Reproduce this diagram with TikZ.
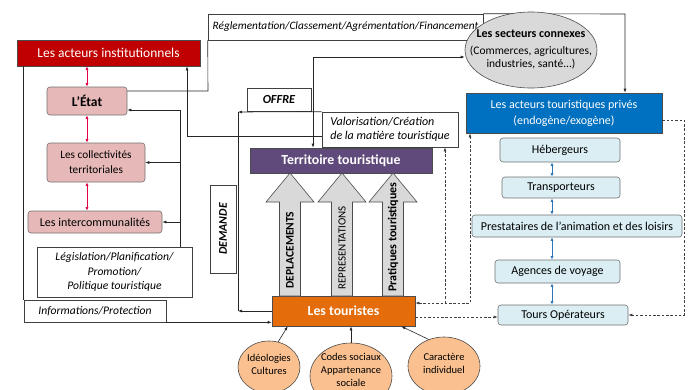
\documentclass[tikz,border=0pt]{standalone}
\usepackage{fontspec}
\setmainfont{Carlito}
\usetikzlibrary{arrows.meta, positioning, shapes.geometric}
\definecolor{instred}{RGB}{192,0,0}
\definecolor{statepink}{RGB}{230,184,183}
\definecolor{linkred}{RGB}{225,0,70}
\definecolor{terrpurple}{RGB}{96,74,123}
\definecolor{privblue}{RGB}{0,112,192}
\definecolor{paleblue}{RGB}{218,238,243}
\definecolor{linkblue}{RGB}{46,117,182}
\definecolor{touristorange}{RGB}{228,108,10}
\definecolor{paleorange}{RGB}{250,192,144}
\definecolor{secgray}{RGB}{217,217,217}
\tikzset{
  box/.style={draw=black!75, line width=0.6pt, inner sep=1pt, align=center,
    font=\fontsize{12}{15}\selectfont},
  textbox/.style={box, fill=white, font=\fontsize{11.6}{14.5}\selectfont\itshape},
  headbox/.style={box, draw=black!70, text=white},
  pinkbox/.style={box, rounded corners=3pt, fill=statepink, draw=black!55},
  actorbox/.style={box, rounded corners=3pt, fill=paleblue, draw=black!55},
  factor/.style={ellipse, draw=black!70, fill=paleorange, line width=0.6pt, inner sep=0pt},
  factortext/.style={align=center, inner sep=0pt, font=\fontsize{10.5}{13}\selectfont},
  link/.style={draw=black!85, line width=0.6pt, -{Latex[length=4pt,width=3pt]}},
  plainlink/.style={draw=black!85, line width=0.6pt},
  redlink/.style={draw=linkred, line width=0.8pt,
    {Latex[length=3.5pt,width=3pt]}-{Latex[length=3.5pt,width=3pt]}},
  bluelink/.style={draw=linkblue, line width=0.8pt,
    {Latex[length=3.5pt,width=3pt]}-{Latex[length=3.5pt,width=3pt]}},
  dashlink/.style={draw=black!75, line width=0.6pt, dash pattern=on 2.5pt off 1.8pt},
  bigarrow/.style={draw=black!70, fill=secgray, line width=0.6pt},
  arrowtext/.style={rotate=90, inner sep=0pt},
}
\begin{document}
\begin{tikzpicture}[x=1pt, y=-1pt]
\path[use as bounding box, fill=white] (0,0) rectangle (689,389);

% institutional side
\node[headbox, fill=instred, minimum width=183pt, minimum height=26pt,
  font=\fontsize{13.5}{16}\selectfont] (inst) at (108.5,53) {Les acteurs institutionnels};
\node[pinkbox, minimum width=80pt, minimum height=28pt,
  font=\fontsize{13.5}{16}\selectfont\bfseries] (etat) at (87,101) {L’État};
\node[pinkbox, minimum width=98pt, minimum height=39pt,
  font=\fontsize{11.3}{15}\selectfont] (coll) at (96,162.5) {Les collectivités\\territoriales};
\node[pinkbox, minimum width=134pt, minimum height=22pt] (inter) at (95,222) {Les intercommunalités};
\node[textbox, minimum width=155pt, minimum height=50pt] (legis) at (114.5,272)
  {Législation/Planification/\\Promotion/\\Politique touristique};
\node[textbox, minimum width=142pt, minimum height=22pt] (info) at (95,311) {Informations/Protection};

% centre
\node[textbox, minimum width=275pt, minimum height=26pt,
  font=\fontsize{11.3}{13}\selectfont\itshape] (regl) at (345.5,27) {Réglementation/Classement/Agrémentation/Financement};
\node[textbox, minimum width=64pt, minimum height=23pt,
  font=\fontsize{12.3}{14}\selectfont\bfseries\itshape] (offre) at (279,99.5) {OFFRE};
\node[textbox, rotate=90, minimum width=88pt, minimum height=26pt,
  font=\fontsize{11.8}{14}\selectfont\bfseries\itshape] (dem) at (223,229) {DEMANDE};
\node[textbox, align=left, minimum width=136pt, minimum height=35pt,
  font=\fontsize{12}{14}\selectfont\itshape] (valor) at (390,129.5) {Valorisation/Création\\de la matière touristique};
\node[headbox, fill=terrpurple, minimum width=182pt, minimum height=25pt,
  font=\fontsize{13.8}{16}\selectfont\bfseries] (terr) at (341,160.5) {Territoire touristique};
\node[headbox, fill=touristorange, minimum width=143pt, minimum height=30pt,
  font=\fontsize{13.8}{16}\selectfont\bfseries] (tour) at (343.5,311) {Les touristes};

\foreach \cx/\ty/\fs/\lbl/\nm/\fnt in {290/250/11.5/DEPLACEMENTS/dep/\bfseries,
    342/248/11/REPRESENTATIONS/rep/\mdseries, 393/237/12/Pratiques touristiques/prat/\bfseries}{
  \draw[bigarrow] (\cx-10.5,296) -- (\cx-10.5,202) -- (\cx-24,202) -- (\cx,173)
    -- (\cx+24,202) -- (\cx+10.5,202) -- (\cx+10.5,296) -- cycle;
  \node[arrowtext, font=\fontsize{\fs}{14}\selectfont\fnt] (\nm) at (\cx,\ty) {\lbl};
}

% private side
\node[headbox, fill=privblue, minimum width=196pt, minimum height=40pt,
  font=\fontsize{12}{16}\selectfont] (prives) at (564,113)
  {Les acteurs touristiques privés\\(endogène/exogène)};
\node[actorbox, minimum width=120pt, minimum height=24pt] (heb) at (560,150) {Hébergeurs};
\node[actorbox, minimum width=118pt, minimum height=21pt] (trans) at (561,187.5) {Transporteurs};
\node[actorbox, minimum width=210pt, minimum height=22pt] (prest) at (577,226) {Prestataires de l’animation et des loisirs};
\node[actorbox, minimum width=125pt, minimum height=23pt] (agen) at (557.5,271.5) {Agences de voyage};
\node[actorbox, minimum width=130pt, minimum height=20pt] (tours) at (563,315) {Tours Opérateurs};

% bend points
\coordinate (lgx) at (180,110);
\coordinate (vx) at (187,136);
\coordinate (rx) at (208,91);
\coordinate (rtop) at (625,14);
\coordinate (sx) at (313,57);
\coordinate (ox) at (238,112);
\coordinate (dx) at (238,311);
\coordinate (bx) at (552,0);
\coordinate (dq) at (684,120);
\coordinate (t1) at (470,303);
\coordinate (t2) at (0,317);
\coordinate (t3) at (445,303);

% connectors
\draw[redlink] (etat.north |- inst.south) -- (etat.north);
\draw[redlink] (etat.south) -- (etat.south |- coll.north);
\draw[redlink] (etat.south |- coll.south) -- (etat.south |- inter.north);
\draw[link] (legis.north -| lgx) -- (lgx) -- (lgx -| etat.east);
\draw[link] (lgx |- coll.east) -- (coll.east);
\draw[link] (lgx |- inter.east) -- (inter.east);
\draw[link] (valor.west |- vx) -- (vx) -- (vx |- inst.south);
\draw[plainlink] (rx -| etat.east) -- (rx) -- (regl.south west);
\draw[link] (regl.north east) -- (rtop) -- (rtop |- prives.north);
\draw[plainlink] (info.north west |- inst.south) -- (info.north west);
\draw[link] (info.south east) -- (info.south east -| tour.west);
\draw[link] (valor.north west) -- (ox);
\draw[link] (tour.west) -- (dx);
\draw[plainlink] (dx) -- (ox);

\foreach \a/\b in {heb/trans, trans/prest, prest/agen, agen/tours}
  \draw[bluelink] (bx |- \a.south) -- (bx |- \b.north);

\draw[dashlink, -{Latex[length=4pt,width=3pt]}] (prives.east |- dq) -- (dq) -- (dq |- tours.east) -- (tours.east);
\draw[dashlink, -{Latex[length=4pt,width=3pt]}] (tour.east |- t2) -- (tours.west |- t2);
\draw[dashlink, {Latex[length=4pt,width=3pt]}-{Latex[length=4pt,width=3pt]}] (tour.east |- t1) -- (t1) -- (t1 |- prives.south);
\draw[dashlink, -{Latex[length=4pt,width=3pt]}] (t3) -- (t3 |- valor.south);

% related sectors
\node[ellipse, draw=black!70, fill=secgray, line width=0.6pt, minimum width=132pt,
  minimum height=76pt, inner sep=0pt] (secteurs) at (531,50) {};
\node[factortext, font=\fontsize{11.5}{13}\selectfont] (sectext) at (531,49)
  {\textbf{\fontsize{12}{14}\selectfont Les secteurs connexes}\\[4pt](Commerces, agricultures,\\industries, santé...)};
\draw[link, {Latex[length=4pt,width=3pt]}-{Latex[length=4pt,width=3pt]}] (terr.north -| sx) -- (sx) -- (sx -| secteurs.west);

% factors
\node[factor, minimum width=62pt, minimum height=52pt] (ideo) at (269,367) {};
\node[factortext] (ideotext) at (269,364) {Idéologies\\Cultures};
\node[factor, minimum width=82pt, minimum height=66pt] (codes) at (351,376) {};
\node[factortext] (codestext) at (351,370) {Codes sociaux\\Appartenance\\sociale};
\node[factor, minimum width=72pt, minimum height=58pt] (carac) at (444,366) {};
\node[factortext] (caractext) at (444,363) {Caractère\\individuel};
\draw[link] (ideo.70) -- ([xshift=16pt]tour.south west);
\draw[link] (codes.north) -- (codes.north |- tour.south);
\draw[link] (carac.120) -- ([xshift=-14pt]tour.south east);
\end{tikzpicture}
\end{document}
